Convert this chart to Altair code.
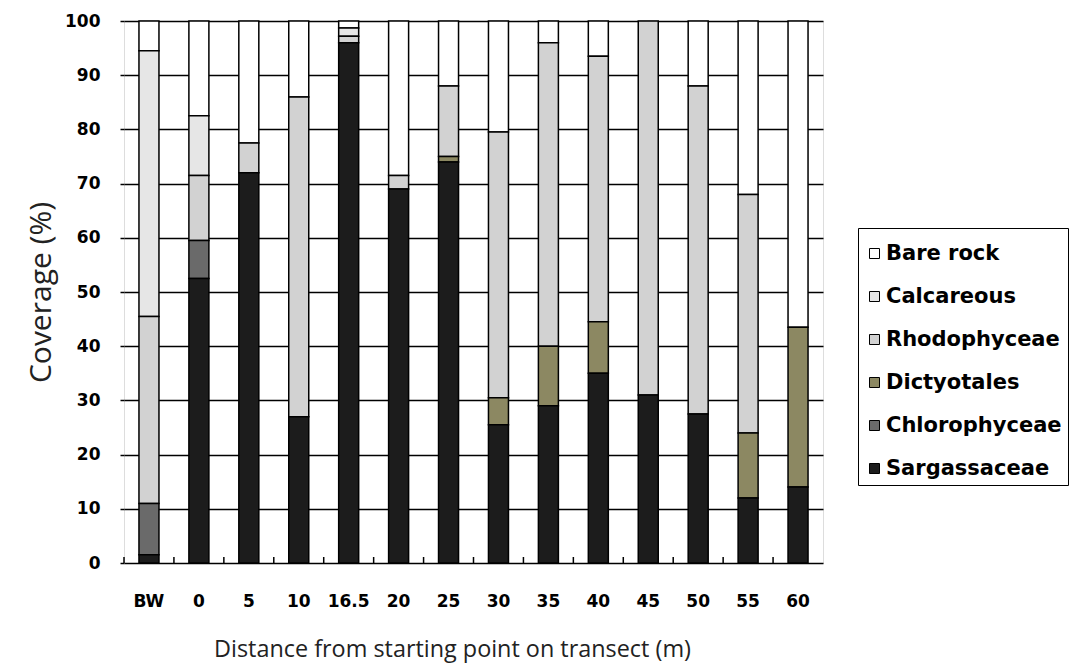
import altair as alt
import pandas as pd

sites = ["BW", "0", "5", "10", "16.5", "20", "25", "30", "35", "40", "45", "50", "55", "60"]
sargassaceae = [1.5, 52.5, 72, 27, 96, 69, 74, 25.5, 29, 35, 31, 27.5, 12, 14]
chlorophyceae = [9.5, 7, 0, 0, 0, 0, 0, 0, 0, 0, 0, 0, 0, 0]
dictyotales = [0, 0, 0, 0, 0, 0, 1, 5, 11, 9.5, 0, 0, 12, 29.5]
rhodophyceae = [34.5, 12, 5.5, 59, 1.2, 2.5, 13, 49, 56, 49, 69, 60.5, 44, 0]
calcareous = [49, 11, 0, 0, 1.5, 0, 0, 0, 0, 0, 0, 0, 0, 0]
bare_rock = [5.5, 17.5, 22.5, 14, 1.3, 28.5, 12, 20.5, 4, 6.5, 0, 12, 32, 56.5]

groups = ["Bare rock", "Calcareous", "Rhodophyceae", "Dictyotales", "Chlorophyceae", "Sargassaceae"]
colors = ["#ffffff", "#e6e6e6", "#d2d2d2", "#8c8862", "#6a6a6a", "#1c1c1c"]
series = [bare_rock, calcareous, rhodophyceae, dictyotales, chlorophyceae, sargassaceae]

rows = []
for gi, (g, vals) in enumerate(zip(groups, series)):
    for s, v in zip(sites, vals):
        rows.append({"site": s, "group": g, "value": v, "order": len(groups) - 1 - gi})
df = pd.DataFrame(rows)

x_enc = alt.X("site:N", sort=sites,
              scale=alt.Scale(paddingInner=0, paddingOuter=0),
              axis=alt.Axis(title="Distance from starting point on transect (m)",
                            labelAngle=0, ticks=False, domain=False, grid=False,
                            labelFont="DejaVu Sans", labelFontWeight="bold",
                            labelFontSize=17, labelColor="#000", labelPadding=30,
                            titleFont="Open Sans", titleFontWeight="normal",
                            titleFontSize=23.4, titleColor="#222", titlePadding=29,
                            titleX=328, titleAlign="center"))

bars = alt.Chart(df).mark_bar(size=20, stroke="#000", strokeWidth=1.5).encode(
    x=x_enc,
    y=alt.Y("sum(value):Q", stack="zero",
            scale=alt.Scale(domain=[0, 100], nice=False),
            axis=alt.Axis(title="Coverage (%)", values=list(range(0, 101, 10)),
                          grid=True, gridColor="#000", gridWidth=1.5, gridOpacity=1,
                          domain=False, tickSize=4, tickColor="#000", tickWidth=1.5,
                          labelFont="DejaVu Sans", labelFontWeight="bold",
                          labelFontSize=17, labelColor="#000", labelPadding=20,
                          titleFont="Open Sans", titleFontWeight="normal",
                          titleFontSize=30, titleColor="#222", titlePadding=8)),
    color=alt.Color("group:N", sort=groups,
                    scale=alt.Scale(domain=groups, range=colors),
                    legend=alt.Legend(title=" ", titleFontSize=9, titlePadding=0,
                                      orient="none", legendX=734, legendY=207,
                                      symbolType="square", symbolSize=100,
                                      symbolStrokeColor="#000", symbolStrokeWidth=1,
                                      labelFont="DejaVu Sans", labelFontWeight="bold",
                                      labelFontSize=21, labelColor="#000", labelOffset=1,
                                      labelLimit=0,
                                      rowPadding=21, padding=6, strokeColor="#000",
                                      fillColor="#fff")),
    order=alt.Order("order:Q", sort="ascending"),
).transform_filter("datum.value > 0")

tick_df = pd.DataFrame({"site": sites})
xticks = alt.Chart(tick_df).mark_rule(color="#000", strokeWidth=1.5).encode(
    x=alt.X("site:N", sort=sites, bandPosition=0),
    y=alt.value(542),
    y2=alt.value(536),
)

chart = alt.layer(bars, xticks).properties(
    width=699, height=542,
    padding={"left": 116, "top": 13, "right": 246, "bottom": 100},
    autosize=alt.AutoSizeParams(type="none"),
).configure_view(stroke="#000", strokeWidth=1.5).configure(background="#fff")

chart.save("out.html", embed_options={"renderer": "svg", "actions": False})
